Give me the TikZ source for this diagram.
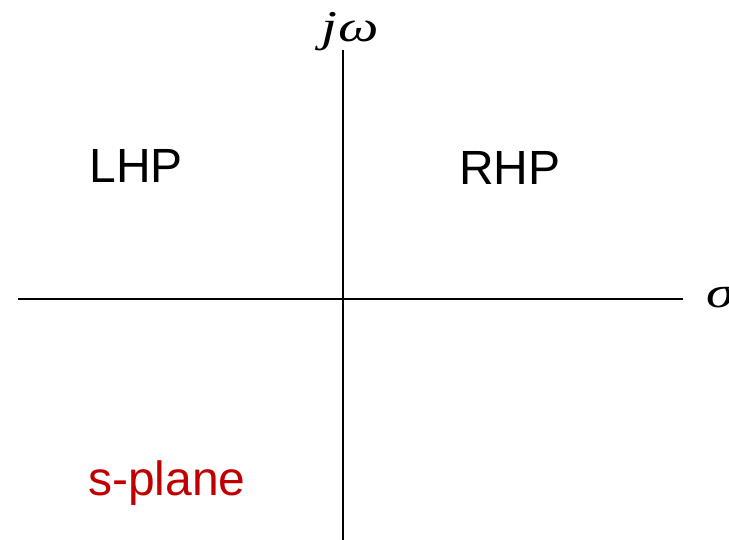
\documentclass[tikz,border=0pt]{standalone}
\usepackage{fontspec}
\setmainfont{Liberation Sans}
\newfontfamily\axisfont{Liberation Serif}
\definecolor{PlaneRed}{RGB}{192,0,0}

\begin{document}
\begin{tikzpicture}[x=1pt,y=-1pt]
      \useasboundingbox (0,0) rectangle (729,540);
      \tikzset{halflabel/.style={font=\fontsize{48}{56}\selectfont,inner sep=0pt,anchor=base},
               axislabel/.style={font=\fontsize{44}{52}\selectfont\axisfont\itshape,inner sep=0pt,xscale=1.3}}
      \coordinate (west) at (18,299);
      \coordinate (east) at (683,299);
      \coordinate (north) at (343,50);
      \coordinate (south) at (343,540);
      \draw[line width=2.4pt] (west) -- (east);
      \draw[line width=2.4pt] (north) -- (south);
      \node[axislabel,anchor=base] (jw) at (350,42) {j\kern1pt ω};
      \node[axislabel,anchor=base west] (sigma) at (706,308) {σ};
      \node[halflabel] (lhp) at (136,183) {LHP};
      \node[halflabel] (rhp) at (510,185) {RHP};
      \node[halflabel,text=PlaneRed] (plane) at (167,495) {s-plane};
    \end{tikzpicture}
\end{document}
